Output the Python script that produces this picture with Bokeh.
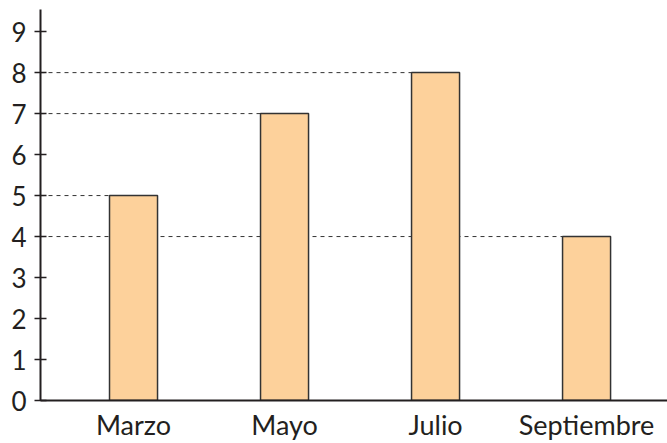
from bokeh.plotting import figure
from bokeh.models import Range1d, FixedTicker, ColumnDataSource
from bokeh.embed import file_html
from bokeh.resources import INLINE

months = ["Marzo", "Mayo", "Julio", "Septiembre"]
values = [5, 7, 8, 4]
y_ticks = list(range(0, 10))

x_pos = list(range(len(months)))
bar_w = 0.318
x_start = -0.616
x_end = 3.536

src = ColumnDataSource(dict(
    x=x_pos, top=values,
    x0=[x_start] * len(values),
    x1=[x - bar_w / 2 for x in x_pos],
))

p = figure(width=667, height=443,
           x_range=Range1d(x_start, x_end), y_range=Range1d(0, 9.54),
           output_backend="svg", toolbar_location=None,
           min_border_left=40, min_border_right=0,
           min_border_top=9, min_border_bottom=43)
p.outline_line_color = None
p.grid.visible = False
p.background_fill_color = "white"
p.border_fill_color = "white"

p.segment(x0="x0", y0="top", x1="x1", y1="top", source=src,
          line_color="#333333", line_width=1, line_dash="4 4")
p.vbar(x="x", top="top", width=bar_w, bottom=0, source=src,
       fill_color="#FDD19B", line_color="#333333", line_width=1.5)

ink = "#231F20"
font = "Lato"

p.yaxis.ticker = FixedTicker(ticks=y_ticks)
p.yaxis.minor_tick_line_color = None
p.yaxis.major_tick_in = 6
p.yaxis.major_tick_out = 6
p.yaxis.major_tick_line_width = 1.5
p.yaxis.major_tick_line_color = ink
p.yaxis.axis_line_width = 2
p.yaxis.axis_line_color = ink
p.yaxis.major_label_text_font = font
p.yaxis.major_label_text_font_size = "26px"
p.yaxis.major_label_text_color = ink
p.yaxis.major_label_standoff = 8

p.xaxis.ticker = FixedTicker(ticks=x_pos)
p.xaxis.major_label_overrides = {i: m for i, m in zip(x_pos, months)}
p.xaxis.minor_tick_line_color = None
p.xaxis.major_tick_line_color = None
p.xaxis.major_tick_in = 0
p.xaxis.major_tick_out = 0
p.xaxis.axis_line_width = 2
p.xaxis.axis_line_color = ink
p.xaxis.major_label_text_font = font
p.xaxis.major_label_text_font_size = "27px"
p.xaxis.major_label_text_color = ink
p.xaxis.major_label_standoff = 7

open("out.html", "w").write(file_html(p, INLINE))
